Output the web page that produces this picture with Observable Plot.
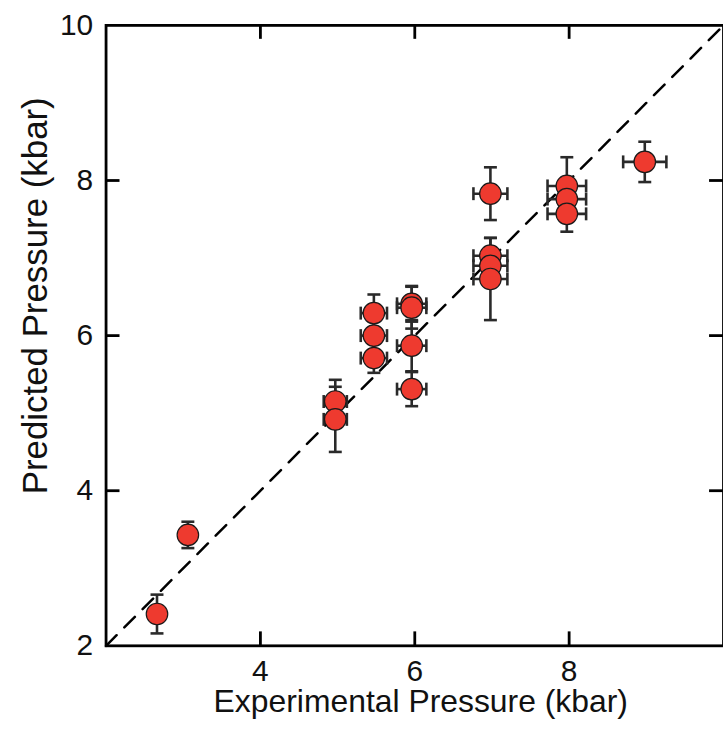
<!DOCTYPE html>
<html>
<head>
<meta charset="utf-8">
<script src="https://cdn.jsdelivr.net/npm/d3@7"></script>
<script src="https://cdn.jsdelivr.net/npm/@observablehq/plot@0.6"></script>
<style>
  html, body { margin: 0; padding: 0; background: #fff; overflow: hidden; }
  #chart svg { display: block; }
</style>
</head>
<body>
<div id="chart"></div>
<script>
// Data
const expP  = [2.66, 3.06, 4.97, 4.97, 5.47, 5.47, 5.47, 5.96, 5.96, 5.96, 5.96, 6.98, 6.98, 6.98, 6.98, 7.97, 7.97, 7.97, 8.98];
const predP = [2.41, 3.43, 5.15, 4.92, 6.29, 6.00, 5.71, 6.41, 6.36, 5.87, 5.31, 7.83, 7.03, 6.90, 6.73, 7.93, 7.76, 7.57, 8.24];
const expErr  = [0, 0, 0.15, 0.15, 0.17, 0.17, 0.17, 0.19, 0.19, 0.19, 0.19, 0.22, 0.22, 0.22, 0.22, 0.25, 0.25, 0.25, 0.28];
const predErr = [0.25, 0.17, 0.28, 0.42, 0.24, 0.20, 0.19, 0.23, 0.27, 0.33, 0.22, 0.34, 0.23, 0.20, 0.53, 0.37, 0.20, 0.23, 0.26];
const xTicks = [4, 6, 8];
const yTicks = [2, 4, 6, 8, 10];
const innerTicksX = [4, 6, 8];
const innerTicksY = [4, 6, 8];
const identity = [2, 10];
const xTitle = "Experimental Pressure (kbar)";
const yTitle = "Predicted Pressure (kbar)";

const data = expP.map((x, i) => ({x, y: predP[i], ex: expErr[i], ey: predErr[i]}));
const withEx = data.filter(d => d.ex > 0);

const W = 726, H = 733, mL = 106, mR = 0, mT = 25, mB = 85;
const innerW = W - mL - mR, innerH = H - mT - mB;
const TICK = 14, CAP = 6.5;

const hCap = {draw(ctx) { ctx.moveTo(-CAP, 0); ctx.lineTo(CAP, 0); }};
const vCap = {draw(ctx) { ctx.moveTo(0, -CAP); ctx.lineTo(0, CAP); }};
const barColor = "#2a2a2a";

const plot = Plot.plot({
  width: W, height: H,
  marginLeft: mL, marginRight: mR, marginTop: mT, marginBottom: mB,
  style: {fontFamily: "Liberation Sans, Arial, sans-serif", fontSize: "30px", color: "#111", background: "#fff", overflow: "visible"},
  x: {domain: [2, 10], ticks: xTicks, tickSize: 0, tickPadding: 14, tickFormat: d => String(d), label: null},
  y: {domain: [2, 10], ticks: yTicks, tickSize: 0, tickPadding: 13, tickFormat: d => String(d), label: null},
  marks: [
    // identity line
    Plot.line(identity.map(v => [v, v]), {x: d => d[0], y: d => d[1], stroke: "#000", strokeWidth: 2.5, strokeDasharray: "15,11"}),
    // error bars
    Plot.ruleX(data, {x: "x", y1: d => d.y - d.ey, y2: d => d.y + d.ey, stroke: barColor, strokeWidth: 2.6}),
    Plot.ruleY(withEx, {y: "y", x1: d => d.x - d.ex, x2: d => d.x + d.ex, stroke: barColor, strokeWidth: 2.6}),
    Plot.dot(data, {x: "x", y: d => d.y + d.ey, symbol: hCap, stroke: barColor, strokeWidth: 2.6, fill: "none", r: 6}),
    Plot.dot(data, {x: "x", y: d => d.y - d.ey, symbol: hCap, stroke: barColor, strokeWidth: 2.6, fill: "none", r: 6}),
    Plot.dot(withEx, {x: d => d.x - d.ex, y: "y", symbol: vCap, stroke: barColor, strokeWidth: 2.6, fill: "none", r: 6}),
    Plot.dot(withEx, {x: d => d.x + d.ex, y: "y", symbol: vCap, stroke: barColor, strokeWidth: 2.6, fill: "none", r: 6}),
    // points
    Plot.dot(data, {x: "x", y: "y", r: 10.8, fill: "#ee3a2f", stroke: "#1a1a1a", strokeWidth: 1.2}),
    // inward ticks
    Plot.ruleX(innerTicksX, {x: d => d, insetTop: innerH - TICK, stroke: "#000", strokeWidth: 2.8}),
    Plot.ruleX(innerTicksX, {x: d => d, insetBottom: innerH - TICK, stroke: "#000", strokeWidth: 2.8}),
    Plot.ruleY(innerTicksY, {y: d => d, insetRight: innerW - TICK, stroke: "#000", strokeWidth: 2.8}),
    Plot.ruleY(innerTicksY, {y: d => d, insetLeft: innerW - TICK, stroke: "#000", strokeWidth: 2.8}),
    Plot.frame({stroke: "#000", strokeWidth: 2.8}),
    // axis titles
    Plot.text([xTitle], {frameAnchor: "bottom", text: d => d, dx: 6, dy: 56, lineAnchor: "middle", textAnchor: "middle", fontSize: 32, fill: "#111"}),
    Plot.text([yTitle], {frameAnchor: "left", text: d => d, dx: -71, dy: -40, lineAnchor: "middle", textAnchor: "middle", rotate: -90, fontSize: 35, fill: "#111"})
  ]
});
document.getElementById("chart").appendChild(plot);
</script>
</body>
</html>
